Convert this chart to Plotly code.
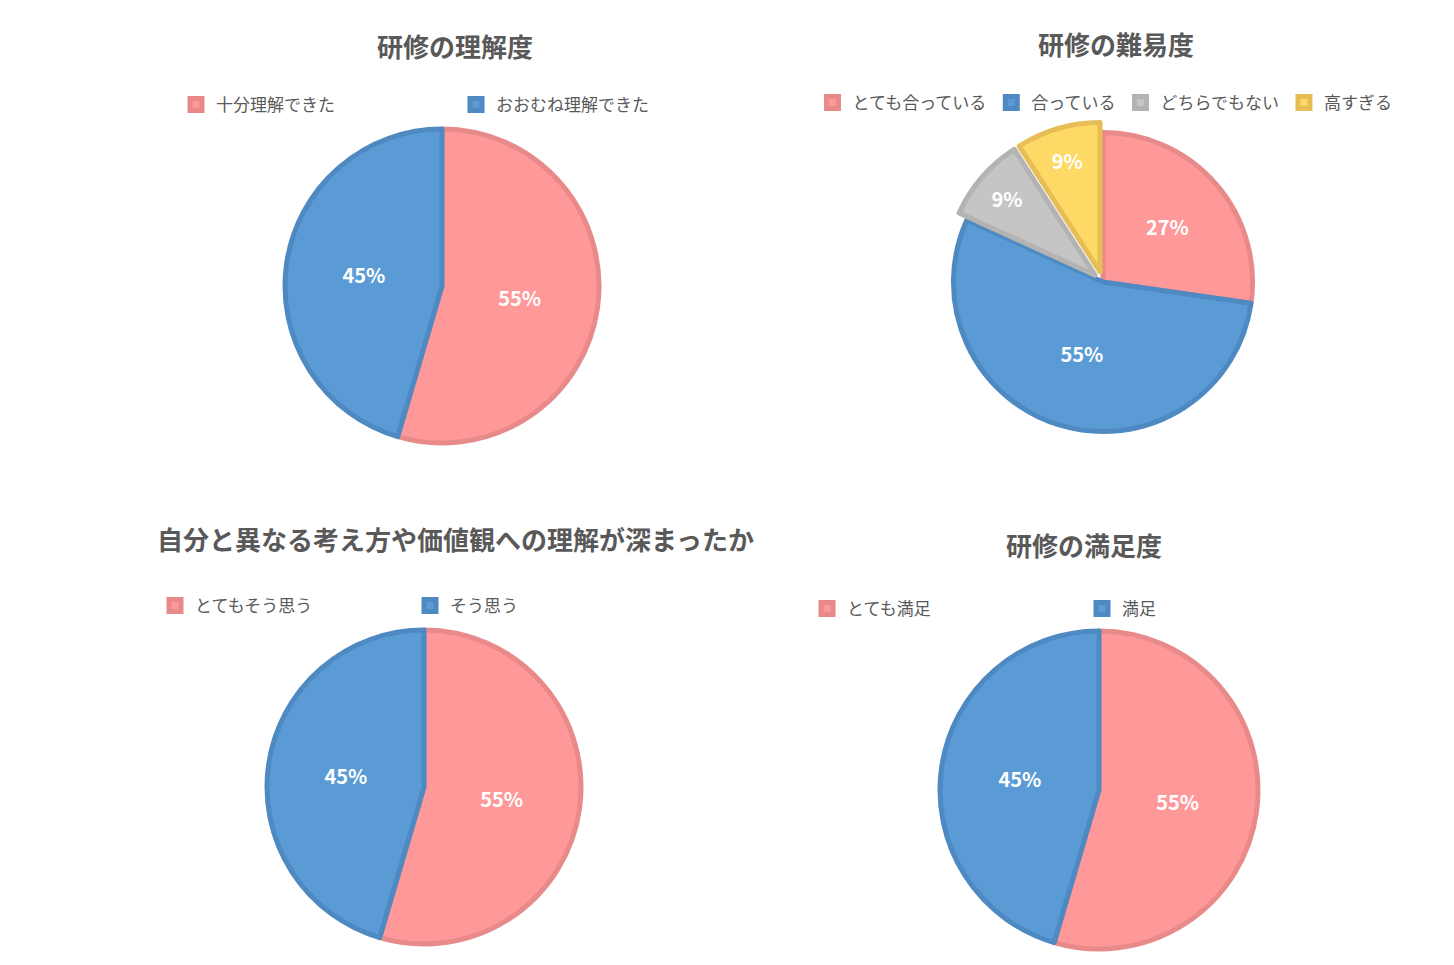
import plotly.graph_objects as go

W, H = 1454, 965

titles = ["研修の理解度", "研修の難易度", "自分と異なる考え方や価値観への理解が深まったか", "研修の満足度"]
labels1 = ["十分理解できた", "おおむね理解できた"]
values1 = [6, 5]
labels2 = ["とても合っている", "合っている", "どちらでもない", "高すぎる"]
values2 = [3, 6, 1, 1]
labels3 = ["とてもそう思う", "そう思う"]
values3 = [6, 5]
labels4 = ["とても満足", "満足"]
values4 = [6, 5]

fills = ["#FF9999", "#5B9BD5", "#C5C5C5", "#FFD966"]
lines = ["#E88A8A", "#4E89C2", "#B3B3B3", "#E6BE55"]

# pixel centre, radius, legend centre-x, legend y, title x, title y, entry width
specs = [
    (434, 278, 157, 448, 97, 447, 37, 235),
    (1095, 274, 160, 1097, 95, 1108, 35, 0),
    (416, 779, 157, 402, 598, 447, 530, 210),
    (1091, 782, 159, 1074, 601, 1076, 536, 230),
]

fig = go.Figure()
data = [(labels1, values1), (labels2, values2), (labels3, values3), (labels4, values4)]
for i, ((labs, vals), (cx, cy, r, lx, ly, tx, ty, ew)) in enumerate(zip(data, specs)):
    n = len(labs)
    pull = [0, 0, 0.07, 0.07] if n == 4 else 0
    fig.add_trace(go.Pie(
        labels=labs, values=vals, sort=False, direction="clockwise", rotation=0,
        pull=pull,
        marker=dict(colors=fills[:n], line=dict(color=lines[:n], width=5)),
        texttemplate="%{percent:.0%}", textposition="inside",
        insidetextfont=dict(color="white", size=20, family="Noto Sans CJK JP", weight="bold"),
        domain=dict(x=[(cx - r) / W, (cx + r) / W], y=[1 - (cy + r) / H, 1 - (cy - r) / H]),
        legend="legend" if i == 0 else f"legend{i+1}",
        hoverinfo="label+percent",
    ))
    leg = dict(orientation="h", x=lx / W, xanchor="center", y=1 - ly / H, yanchor="middle",
               font=dict(size=17, color="#595959", family="Noto Sans CJK JP"),
               itemwidth=30, bgcolor="rgba(0,0,0,0)")
    if ew:
        leg["entrywidth"] = ew
    fig.update_layout(**{"legend" if i == 0 else f"legend{i+1}": leg})
    fig.add_annotation(text=titles[i], x=tx / W, y=1 - ty / H, xanchor="center", yanchor="middle",
                       xref="paper", yref="paper", showarrow=False,
                       font=dict(size=26, color="#595959", family="Noto Sans CJK JP", weight="bold"))

fig.update_layout(width=W, height=H, margin=dict(l=0, r=0, t=0, b=0),
                  paper_bgcolor="white", plot_bgcolor="white", showlegend=True,
                  font=dict(family="Noto Sans CJK JP"))
fig.write_html("out.html")
